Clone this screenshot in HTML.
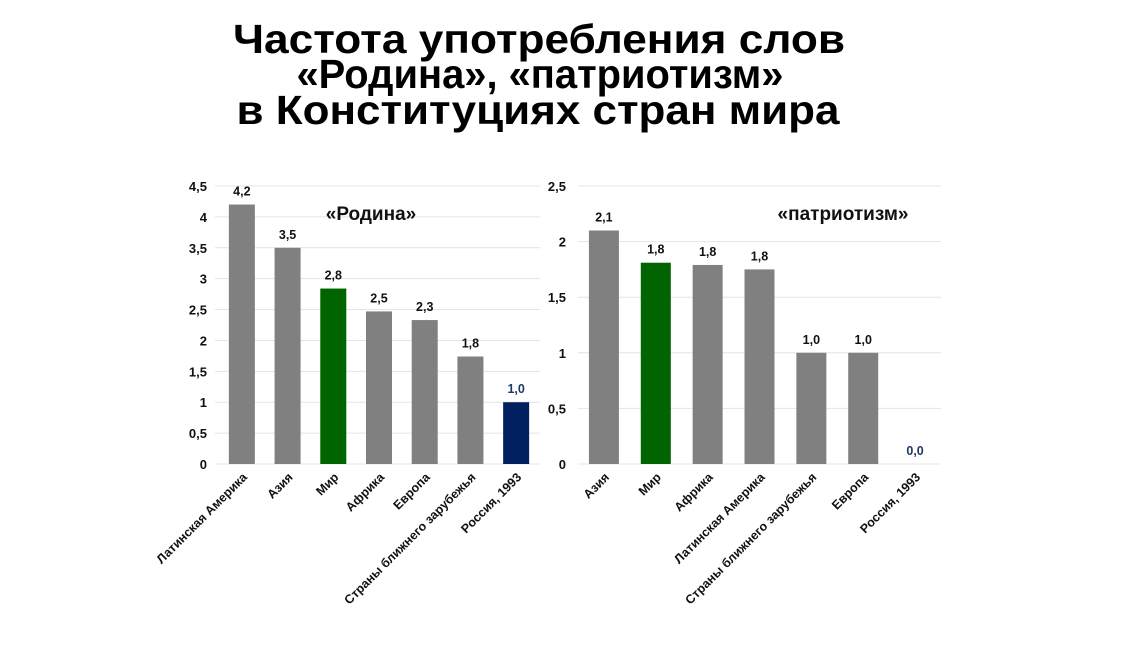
<!DOCTYPE html>
<html><head><meta charset="utf-8"><style>
body{margin:0;background:#fff;width:1129px;height:661px;overflow:hidden;font-family:"Liberation Sans",sans-serif}
svg text{font-family:"Liberation Sans",sans-serif;font-weight:bold}
</style></head><body>
<svg id="s" width="1129" height="661">
<g>
<text x="539" y="53" font-size="41" text-anchor="middle" textLength="612" lengthAdjust="spacingAndGlyphs">Частота употребления слов</text>
<text x="540" y="88" font-size="41" text-anchor="middle" textLength="487" lengthAdjust="spacingAndGlyphs">«Родина», «патриотизм»</text>
<text x="538" y="124" font-size="41" text-anchor="middle" textLength="603" lengthAdjust="spacingAndGlyphs">в Конституциях стран мира</text>
</g>
</svg>
<script>
const catsA=["Латинская Америка","Азия","Мир","Африка","Европа","Страны ближнего зарубежья","Россия, 1993"];
const valsA=[4.2,3.5,2.84,2.47,2.33,1.74,1.0];
const labelsA=["4,2","3,5","2,8","2,5","2,3","1,8","1,0"];
const ticksA=["0","0,5","1","1,5","2","2,5","3","3,5","4","4,5"];
const catsB=["Азия","Мир","Африка","Латинская Америка","Страны ближнего зарубежья","Европа","Россия, 1993"];
const valsB=[2.1,1.81,1.79,1.75,1.0,1.0,0];
const labelsB=["2,1","1,8","1,8","1,8","1,0","1,0","0,0"];
const ticksB=["0","0,5","1","1,5","2","2,5"];
const NS="http://www.w3.org/2000/svg";
const svg=document.getElementById('s');
function mk(tag,at,parent){const e=document.createElementNS(NS,tag);for(const k in at)e.setAttribute(k,at[k]);(parent||svg).appendChild(e);return e;}
function draw(o){
  const g=mk('g',{});
  
  
  const y=v=>o.y0-(v/o.max)*(o.y0-o.yTop);
  const step=(o.x1-o.x0)/o.cats.length;
  o.ticks.forEach((t,i)=>{
    const v=i*o.tickStep;
    const l=mk('line',{x1:o.gx0,x2:o.gx1,y1:y(v),y2:y(v),stroke:'#e4e4e4','stroke-width':1},g);
    
    
    const tx=mk('text',{x:o.tickX,y:y(v)+5,'font-size':13,'text-anchor':'end',fill:'#111'},g);
    tx.textContent=t;
    
    
  });
  o.cats.forEach((c,i)=>{
    const cx=o.x0+step*(i+0.5);
    const v=o.vals[i];
    const col=c==="Мир"?'#006400':(c==="Россия, 1993"?'#002060':'#808080');
    const r=mk('rect',{x:cx-o.bw/2,y:y(v),width:o.bw,height:o.y0-y(v),fill:col},g);
    
    
    const vl=mk('text',{x:cx,y:y(v)-9,'font-size':12.5,'text-anchor':'middle',fill:c==="Россия, 1993"?'#1f3864':'#111'},g);
    vl.textContent=o.labels[i];
    
    
    const cl=mk('text',{x:cx+6,y:o.y0+14,'font-size':12.5,'text-anchor':'end',fill:'#111',transform:`rotate(-45 ${cx+6} ${o.y0+14})`},g);
    cl.textContent=c;
    
    
  });
  const tt=mk('text',{x:o.titleX,y:220,'font-size':19,'text-anchor':'middle',fill:'#111'},g);
  tt.textContent=o.title;
  
  
}
draw({name:'rodina-chart',cats:catsA,vals:valsA,labels:labelsA,ticks:ticksA,tickStep:0.5,max:4.5,y0:464,yTop:186,x0:219,x1:539,gx0:215,gx1:540,bw:26,tickX:207,titleX:371,title:'«Родина»'});
draw({name:'patriotizm-chart',cats:catsB,vals:valsB,labels:labelsB,ticks:ticksB,tickStep:0.5,max:2.5,y0:464,yTop:186,x0:578,x1:941,gx0:578,gx1:941,bw:30,tickX:566,titleX:843,title:'«патриотизм»'});
</script>
</body></html>
